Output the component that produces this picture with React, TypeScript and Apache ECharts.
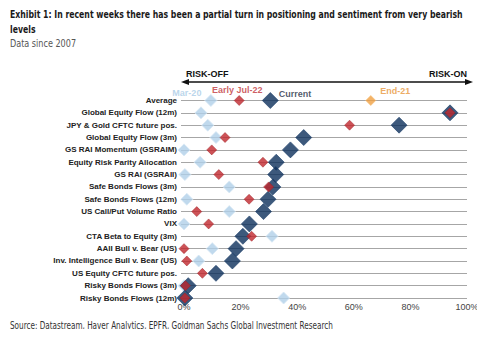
import React, { useEffect, useRef } from "react";
import * as echarts from "echarts";

const categories = [
  "Average",
  "Global Equity Flow (12m)",
  "JPY & Gold CFTC future pos.",
  "Global Equity Flow (3m)",
  "GS RAI Momentum (GSRAIM)",
  "Equity Risk Parity Allocation",
  "GS RAI (GSRAII)",
  "Safe Bonds Flows (3m)",
  "Safe Bonds Flows (12m)",
  "US Call/Put Volume Ratio",
  "VIX",
  "CTA Beta to Equity (3m)",
  "AAII Bull v. Bear (US)",
  "Inv. Intelligence Bull v. Bear (US)",
  "US Equity CFTC future pos.",
  "Risky Bonds Flows (3m)",
  "Risky Bonds Flows (12m)",
];

const mar20 = [9.5, 6, 8.4, 11.3, 0, 5.7, 0.3, 16, 1, 16, 0, 31.1, 10, 5.2, null, 0, 35.2];
const earlyJul22 = [19.5, 94, 58.5, 14.5, 9.8, 27.9, 12.3, 29.9, 23, 4.5, 8.7, 23.9, 0, 1, 6.5, 0.5, 0.3];
const current = [30.5, 94, 76, 42.3, 37.6, 32.6, 32.4, 31.4, 29.7, 28.1, 23.1, 20.8, 18.4, 17.1, 11.3, 1.5, 0.3];
const end21 = [66, null, null, null, null, null, null, null, null, null, null, null, null, null, null, null, null];

const xTicks = [0, 20, 40, 60, 80, 100];

const COND = "'DejaVu Sans Condensed', 'Liberation Sans Narrow', sans-serif";
const ARIAL = "'Liberation Sans', Arial, sans-serif";

function buildData(values: (number | null)[], label: any) {
  const out: any[] = [];
  values.forEach((v, i) => {
    if (v == null) return;
    if (i === 0) out.push({ value: [v, categories[i]], label });
    else out.push([v, categories[i]]);
  });
  return out;
}

export default function App() {
  const ref = useRef<HTMLDivElement>(null);
  useEffect(() => {
    if (!ref.current) return;
    const chart = echarts.init(ref.current, undefined, { renderer: "svg" });
    const lblBase = { show: true, fontFamily: ARIAL, fontWeight: "bold", fontSize: 9 };
    chart.setOption({
      animation: false,
      backgroundColor: "#ffffff",
      grid: { left: 184, right: 18, top: 100.5, bottom: 39, containLabel: false },
      xAxis: {
        type: "value",
        min: 0,
        max: 100,
        interval: 20,
        axisLine: { show: false },
        axisTick: { show: false },
        splitLine: { show: false },
        axisLabel: {
          formatter: (v: number) => (xTicks.includes(v) ? v + "%" : ""),
          fontFamily: ARIAL,
          fontSize: 9,
          color: "#444444",
          margin: 4,
        },
      },
      yAxis: {
        type: "category",
        data: categories,
        inverse: true,
        boundaryGap: false,
        axisLine: { show: false },
        axisTick: { show: true, length: 3, lineStyle: { color: "#a6a6a6" } },
        splitLine: { show: true, lineStyle: { color: "#a6a6a6", width: 1 } },
        axisLabel: { fontFamily: ARIAL, fontWeight: "bold", fontSize: 8, color: "#222222", margin: 7 },
      },
      graphic: [
        {
          type: "text",
          x: 10,
          y: 14,
          scaleX: 0.785,
          style: {
            text: "Exhibit 1: In recent weeks there has been a partial turn in positioning and sentiment from very bearish",
            font: "bold 11px " + COND,
            fill: "#1a1a1a",
            verticalAlign: "middle",
          },
        },
        {
          type: "text",
          x: 10,
          y: 29,
          scaleX: 0.785,
          style: { text: "levels", font: "bold 11px " + COND, fill: "#1a1a1a", verticalAlign: "middle" },
        },
        {
          type: "text",
          x: 10,
          y: 43,
          scaleX: 0.9,
          style: { text: "Data since 2007", font: "10px " + COND, fill: "#555555", verticalAlign: "middle" },
        },
        { type: "text", left: 186, top: 69, style: { text: "RISK-OFF", font: "bold 9px " + ARIAL, fill: "#111" } },
        { type: "text", right: 18, top: 69, style: { text: "RISK-ON", font: "bold 9px " + ARIAL, fill: "#111", textAlign: "right" } },
        { type: "line", shape: { x1: 186, y1: 82, x2: 468, y2: 82 }, style: { stroke: "#111", lineWidth: 1.5 } },
        { type: "polygon", shape: { points: [[181, 82], [189, 79], [189, 85]] }, style: { fill: "#111" } },
        { type: "polygon", shape: { points: [[473, 82], [465, 79], [465, 85]] }, style: { fill: "#111" } },
        {
          type: "text",
          x: 10,
          y: 326,
          scaleX: 0.81,
          style: {
            text: "Source: Datastream, Haver Analytics, EPFR, Goldman Sachs Global Investment Research",
            font: "10px " + COND,
            fill: "#333333",
            verticalAlign: "middle",
          },
        },
      ],
      series: [
        {
          name: "Mar-20",
          type: "scatter",
          symbol: "diamond",
          symbolSize: 12,
          itemStyle: { color: "#b0cfe8", borderColor: "#d8e8f5", borderWidth: 1 },
          data: buildData(mar20, { ...lblBase, formatter: "Mar-20", position: "left", distance: 3, offset: [0, -8], color: "#a9cbe6" }),
        },
        {
          name: "End-21",
          type: "scatter",
          symbol: "diamond",
          symbolSize: 10,
          itemStyle: { color: "#f0a042", borderColor: "#f7c27e", borderWidth: 0.8 },
          data: buildData(end21, { ...lblBase, formatter: "End-21", position: "right", distance: 4, offset: [0, -10], color: "#e8963a" }),
        },
        {
          name: "Current",
          type: "scatter",
          symbol: "diamond",
          symbolSize: 16,
          itemStyle: { color: "#0c2f5b", borderColor: "#1d3f6a", borderWidth: 0.8 },
          data: buildData(current, { ...lblBase, formatter: "Current", position: "right", distance: 0, offset: [0, -7], color: "#1f2f45" }),
        },
        {
          name: "Early Jul-22",
          type: "scatter",
          symbol: "diamond",
          symbolSize: 10,
          itemStyle: { color: "#c1272d", borderColor: "#a11d22", borderWidth: 0.6 },
          data: buildData(earlyJul22, { ...lblBase, formatter: "Early Jul-22", position: "top", distance: 1, offset: [-2, 0], color: "#c1353a" }),
        },
      ],
    });
    return () => chart.dispose();
  }, []);
  return <div ref={ref} style={{ width: 485, height: 337, margin: -8 }} />;
}
